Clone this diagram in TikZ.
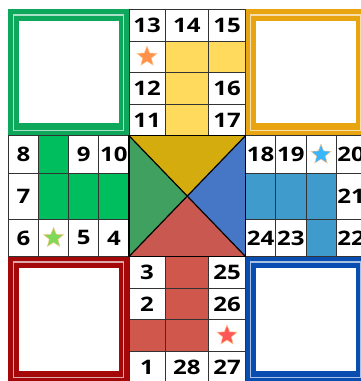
\documentclass[tikz,border=0pt]{standalone}
\usepackage{fontspec}
\setmainfont{Open Sans}[FakeStretch=1.2]
\usetikzlibrary{shapes.geometric}

\definecolor{greenhome}{RGB}{14,168,92}
\definecolor{greencell}{RGB}{0,190,94}
\definecolor{yellowhome}{RGB}{232,165,17}
\definecolor{yellowcell}{RGB}{255,218,92}
\definecolor{redhome}{RGB}{165,8,8}
\definecolor{redcell}{RGB}{208,87,75}
\definecolor{bluehome}{RGB}{10,77,176}
\definecolor{bluecell}{RGB}{63,155,203}
\definecolor{midyellow}{RGB}{212,172,13}
\definecolor{midgreen}{RGB}{64,160,96}
\definecolor{midblue}{RGB}{70,119,198}
\definecolor{midred}{RGB}{200,88,80}

\begin{document}
\begin{tikzpicture}[x=1pt, y=-1pt,
	every node/.style={font=\fontsize{20}{22}\selectfont\bfseries},
	num/.style={inner sep=0pt, text=black},
	cell/.style={draw=black!80, line width=0.7pt},
	starmark/.style={star, star points=5, star point ratio=2.3, minimum size=21pt, inner sep=0pt, draw=orange!45, line width=0.5pt}]
	\useasboundingbox (0,0) rectangle (361,381);
	\clip (0,0) rectangle (361,381);
	\fill[white] (0,0) rectangle (361,381);

	% home boxes
	\foreach \hx/\hy/\hc in {8.3/9.3/greenhome, 245.5/9.3/yellowhome, 8.3/256.5/redhome, 245.5/256.5/bluehome} {
		\fill[\hc] (\hx,\hy) rectangle ++(120.7,126.8);
		\draw[white, opacity=0.65, line width=1.3pt] (\hx+5.2,\hy+5.6) rectangle ++(110.3,115.6);
		\fill[white] (\hx+10.3,\hy+11.8) rectangle ++(100.1,102.2);
	}

	% coloured track cells
	\fill[yellowcell] (165,40.9) rectangle (208.5,135.7);
	\fill[yellowcell] (208.5,40.9) rectangle (245.5,72.5);
	\fill[greencell] (38.5,135.7) rectangle (68.7,219.3);
	\fill[greencell] (68.7,173.5) rectangle (129,219.3);
	\fill[bluecell] (245.5,173.5) rectangle (336,219.3);
	\fill[bluecell] (305.9,219.3) rectangle (336,256.5);
	\fill[redcell] (165,256.5) rectangle (208.5,351.3);
	\fill[redcell] (129,319.7) rectangle (165,351.3);

	% grids
	\foreach \xa/\xb in {129/165, 165/208.5, 208.5/245.5}
		\foreach \ya/\yb in {9.3/40.9, 40.9/72.5, 72.5/104.1, 104.1/135.7, 256.5/288.1, 288.1/319.7, 319.7/351.3, 351.3/383}
			\draw[cell] (\xa,\ya) rectangle (\xb,\yb);
	\foreach \xa/\xb in {8.3/38.5, 38.5/68.7, 68.7/98.8, 98.8/129, 245.5/275.7, 275.7/305.9, 305.9/336, 336/366.2}
		\foreach \ya/\yb in {135.7/173.5, 173.5/219.3, 219.3/256.5}
			\draw[cell] (\xa,\ya) rectangle (\xb,\yb);

	% centre
	\coordinate (ctr) at (187.25,196.1);
	\fill[midyellow] (129,135.7) -- (245.5,135.7) -- (ctr) -- cycle;
	\fill[midblue] (245.5,135.7) -- (245.5,256.5) -- (ctr) -- cycle;
	\fill[midred] (245.5,256.5) -- (129,256.5) -- (ctr) -- cycle;
	\fill[midgreen] (129,256.5) -- (129,135.7) -- (ctr) -- cycle;
	\draw[black, line width=1.2pt] (129,135.7) rectangle (245.5,256.5);
	\draw[black, line width=1.2pt] (129,135.7) -- (245.5,256.5);
	\draw[black, line width=1.2pt] (245.5,135.7) -- (129,256.5);

	% numbers
	\node[num] (n13) at (147,25.1) {13};
	\node[num] (n14) at (186.75,25.1) {14};
	\node[num] (n15) at (227,25.1) {15};
	\node[num] (n12) at (147,88.3) {12};
	\node[num] (n16) at (227,88.3) {16};
	\node[num] (n11) at (147,119.9) {11};
	\node[num] (n17) at (227,119.9) {17};
	\node[num] (n8) at (23.4,154.6) {8};
	\node[num] (n9) at (83.75,154.6) {9};
	\node[num] (n10) at (113.9,154.6) {10};
	\node[num] (n7) at (23.4,196.4) {7};
	\node[num] (n6) at (23.4,237.9) {6};
	\node[num] (n5) at (83.75,237.9) {5};
	\node[num] (n4) at (113.9,237.9) {4};
	\node[num] (n18) at (260.6,154.6) {18};
	\node[num] (n19) at (290.8,154.6) {19};
	\node[num] (n20) at (351.1,154.6) {20};
	\node[num] (n21) at (351.1,196.4) {21};
	\node[num] (n24) at (260.6,237.9) {24};
	\node[num] (n23) at (290.8,237.9) {23};
	\node[num] (n22) at (351.1,237.9) {22};
	\node[num] (n3) at (147,272.3) {3};
	\node[num] (n25) at (227,272.3) {25};
	\node[num] (n2) at (147,303.9) {2};
	\node[num] (n26) at (227,303.9) {26};
	\node[num] (n1) at (147,367.2) {1};
	\node[num] (n28) at (186.75,367.2) {28};
	\node[num] (n27) at (227,367.2) {27};

	% safe squares
	\node[starmark, fill={rgb,255:red,255;green,145;blue,77}] (staryellow) at (147,56.7) {};
	\node[starmark, fill={rgb,255:red,126;green,217;blue,87}] (stargreen) at (53.6,237.9) {};
	\node[starmark, fill={rgb,255:red,56;green,182;blue,255}] (starblue) at (321,154.6) {};
	\node[starmark, fill={rgb,255:red,255;green,87;blue,87}] (starred) at (227,335.5) {};
\end{tikzpicture}
\end{document}
